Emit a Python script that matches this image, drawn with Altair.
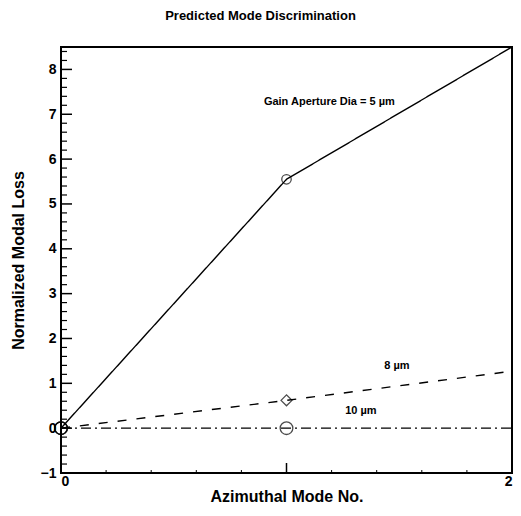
import altair as alt
import pandas as pd

# Series data
modes = [0, 1, 2]
loss_5um = [0.0, 5.55, 8.5]
loss_8um = [0.0, 0.62, 1.27]
loss_10um = [0.0, 0.0, 0.0]
series_names = ["5 µm", "8 µm", "10 µm"]

# Marker data (mode, loss, shape)
mk_x = [0, 0, 0, 1, 1, 1]
mk_y = [0.0, 0.0, 0.0, 5.55, 0.62, 0.0]
mk_shape = ["circle", "circle", "circle", "circle", "diamond", "circle"]
mk_size = [160, 160, 160, 90, 120, 160]

# Annotation labels
ann_text = ["Gain Aperture Dia = 5 µm", "8 µm", "10 µm"]
ann_x = [1.19, 1.49, 1.33]
ann_y = [7.27, 1.38, 0.38]

# Tick values
y_major = [-1, 0, 1, 2, 3, 4, 5, 6, 7, 8]
y_minor = [round(-1 + 0.2 * i, 2) for i in range(48) if round(-1 + 0.2 * i, 2) not in y_major]
x_major = [0, 1, 2]
x_minor = [round(0.2 * i, 2) for i in range(11) if round(0.2 * i, 2) not in x_major]

FONT = "Liberation Sans"
W, H = 451, 426

rows = []
for name, vals in zip(series_names, [loss_5um, loss_8um, loss_10um]):
    for m, v in zip(modes, vals):
        rows.append({"mode": m, "loss": v, "series": name})
df = pd.DataFrame(rows)

xs = alt.Scale(domain=[0, 2], nice=False, zero=False)
ys = alt.Scale(domain=[-1, 8.5], nice=False, zero=False)

xax = alt.Axis(values=x_major, format="d", ticks=False, domain=False, grid=False,
               labelFont=FONT, labelFontWeight="bold", labelFontSize=14, labelColor="black",
               labelPadding=1, title="Azimuthal Mode No.", titleFont=FONT,
               titleFontWeight="bold", titleFontSize=16, titleColor="black", titlePadding=0)
yax = alt.Axis(values=y_major, format="d", ticks=False, domain=False, grid=False,
               labelFont=FONT, labelFontWeight="bold", labelFontSize=14, labelColor="black",
               labelPadding=5, title="Normalized Modal Loss", titleFont=FONT,
               titleFontWeight="bold", titleFontSize=16, titleColor="black", titlePadding=14)

lines = alt.Chart(df).mark_line(color="black", strokeWidth=1.4).encode(
    x=alt.X("mode:Q", scale=xs, axis=xax),
    y=alt.Y("loss:Q", scale=ys, axis=yax),
    strokeDash=alt.StrokeDash("series:N",
                              scale=alt.Scale(domain=series_names,
                                              range=[[1, 0], [9, 10], [10, 4, 2, 4]]),
                              legend=None),
)

mk = pd.DataFrame({"mode": mk_x, "loss": mk_y, "shape": mk_shape, "size": mk_size})
markers = alt.Chart(mk).mark_point(filled=False, color="black", strokeWidth=1.3).encode(
    x=alt.X("mode:Q", scale=xs),
    y=alt.Y("loss:Q", scale=ys),
    shape=alt.Shape("shape:N", scale=None),
    size=alt.Size("size:Q", scale=None),
)

ann = pd.DataFrame({"x": ann_x, "y": ann_y, "t": ann_text})
labels = alt.Chart(ann).mark_text(font=FONT, fontWeight="bold", fontSize=11, color="black").encode(
    x=alt.X("x:Q", scale=xs), y=alt.Y("y:Q", scale=ys), text="t:N")

ymaj = pd.DataFrame({"v": y_major})
ymin = pd.DataFrame({"v": y_minor})
xmaj = pd.DataFrame({"v": x_major})
xmin = pd.DataFrame({"v": x_minor})

yt_major = alt.Chart(ymaj).mark_rule(color="black", strokeWidth=1.5).encode(
    y=alt.Y("v:Q", scale=ys), x=alt.value(0), x2=alt.value(11))
yt_minor = alt.Chart(ymin).mark_rule(color="black", strokeWidth=1.2).encode(
    y=alt.Y("v:Q", scale=ys), x=alt.value(0), x2=alt.value(6))
xt_major = alt.Chart(xmaj).mark_rule(color="black", strokeWidth=1.5).encode(
    x=alt.X("v:Q", scale=xs), y=alt.value(H), y2=alt.value(H - 10))
xt_minor = alt.Chart(xmin).mark_rule(color="black", strokeWidth=1).encode(
    x=alt.X("v:Q", scale=xs), y=alt.value(H), y2=alt.value(H - 3))

chart = alt.layer(yt_major, yt_minor, xt_major, xt_minor, lines, markers, labels).properties(
    width=W, height=H,
    title=alt.TitleParams("Predicted Mode Discrimination", font=FONT, fontWeight="bold",
                          fontSize=13, color="black", anchor="middle", dx=-26, offset=21),
    autosize=alt.AutoSizeParams(type="none"),
    padding={"left": 53, "top": 39, "right": 1, "bottom": 30},
).configure_view(stroke="black", strokeWidth=2)

chart.save("out.html", embed_options={"renderer": "svg", "actions": False})
